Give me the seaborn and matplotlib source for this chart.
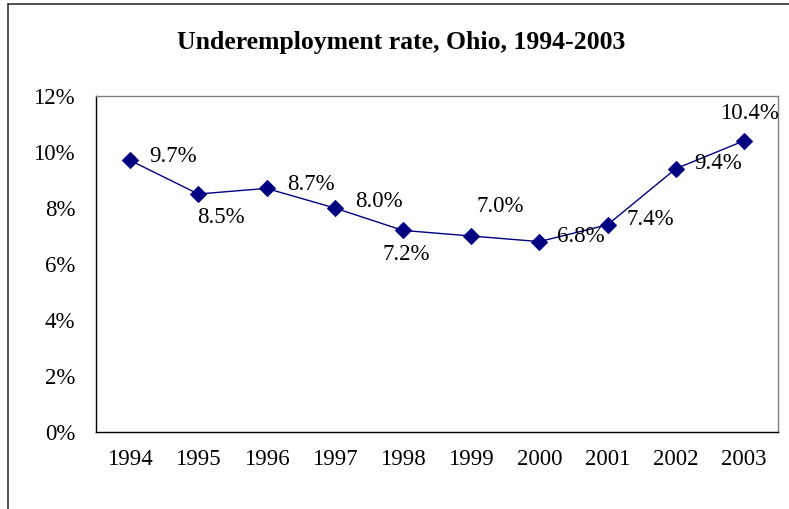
import matplotlib
matplotlib.use("Agg")
import matplotlib.pyplot as plt
import matplotlib.lines as mlines
from matplotlib.ticker import FixedLocator, FuncFormatter
import seaborn as sns
import pandas as pd

years = ["1994", "1995", "1996", "1997", "1998", "1999", "2000", "2001", "2002", "2003"]
rates = [9.7, 8.5, 8.7, 8.0, 7.2, 7.0, 6.8, 7.4, 9.4, 10.4]
# label offsets (points) relative to each marker
label_offsets = [(14, 3), (-1, -17), (15, 3), (15, 5), (-15, -17), (4, 21), (13, 4), (14, 4), (13, 4), (-17, 20)]

sns.set_theme(style="white")
plt.rcParams["font.family"] = ["Liberation Serif", "DejaVu Serif"]
plt.rcParams["text.color"] = "black"
plt.rcParams["xtick.color"] = "black"
plt.rcParams["ytick.color"] = "black"
plt.rcParams["axes.labelcolor"] = "black"

df = pd.DataFrame({"year": years, "rate": rates})

fig = plt.figure(figsize=(7.89, 5.09), dpi=100)
ax = fig.add_axes([96 / 789, 77 / 509, (778 - 96) / 789, (432 - 96) / 509])

sns.lineplot(data=df, x="year", y="rate", ax=ax, color="#000080", linewidth=1.0,
             marker="D", markersize=8.5, markeredgecolor="#000080", sort=False)

for i, (v, off) in enumerate(zip(rates, label_offsets)):
    ax.annotate(f"{v:.1f}%", (i, v), xytext=off, textcoords="offset points",
                ha="left", va="center", fontsize=16.5, color="black")

ax.set_xlim(-0.5, 9.5)
ax.set_ylim(0, 12)
ax.set_yticks([0, 2, 4, 6, 8, 10, 12])
ax.yaxis.set_major_formatter(FuncFormatter(lambda v, p: f"{int(v)}%"))
ax.set_xticks(range(len(years)))
ax.set_xticklabels(years)
ax.xaxis.set_minor_locator(FixedLocator([i - 0.5 for i in range(len(years) + 1)]))
ax.tick_params(axis="x", which="major", length=0, pad=12, labelsize=16.5, labelcolor="black")
ax.tick_params(axis="x", which="minor", length=5, width=1, color="black", direction="out")
ax.tick_params(axis="y", which="major", length=6, width=1, color="black", direction="out",
               pad=9, labelsize=16.5, labelcolor="black")
ax.set_xlabel("")
ax.set_ylabel("")

for s in ["left", "bottom"]:
    ax.spines[s].set_color("black")
    ax.spines[s].set_linewidth(1.0)
for s in ["top", "right"]:
    ax.spines[s].set_color("#808080")
    ax.spines[s].set_linewidth(1.0)

fig.text(0.5 * (163 + 640) / 789, 1 - 42 / 509, "Underemployment rate, Ohio, 1994-2003",
         ha="center", va="center", fontsize=18.5, fontweight="bold", color="black")

# outer chart border (top and left edges)
fig.add_artist(mlines.Line2D([8 / 789, 1], [1 - 4 / 509, 1 - 4 / 509], color="#333333", linewidth=1.2))
fig.add_artist(mlines.Line2D([8 / 789, 8 / 789], [0, 1 - 4 / 509], color="#333333", linewidth=1.2))

fig.savefig("out.png", dpi=100)
